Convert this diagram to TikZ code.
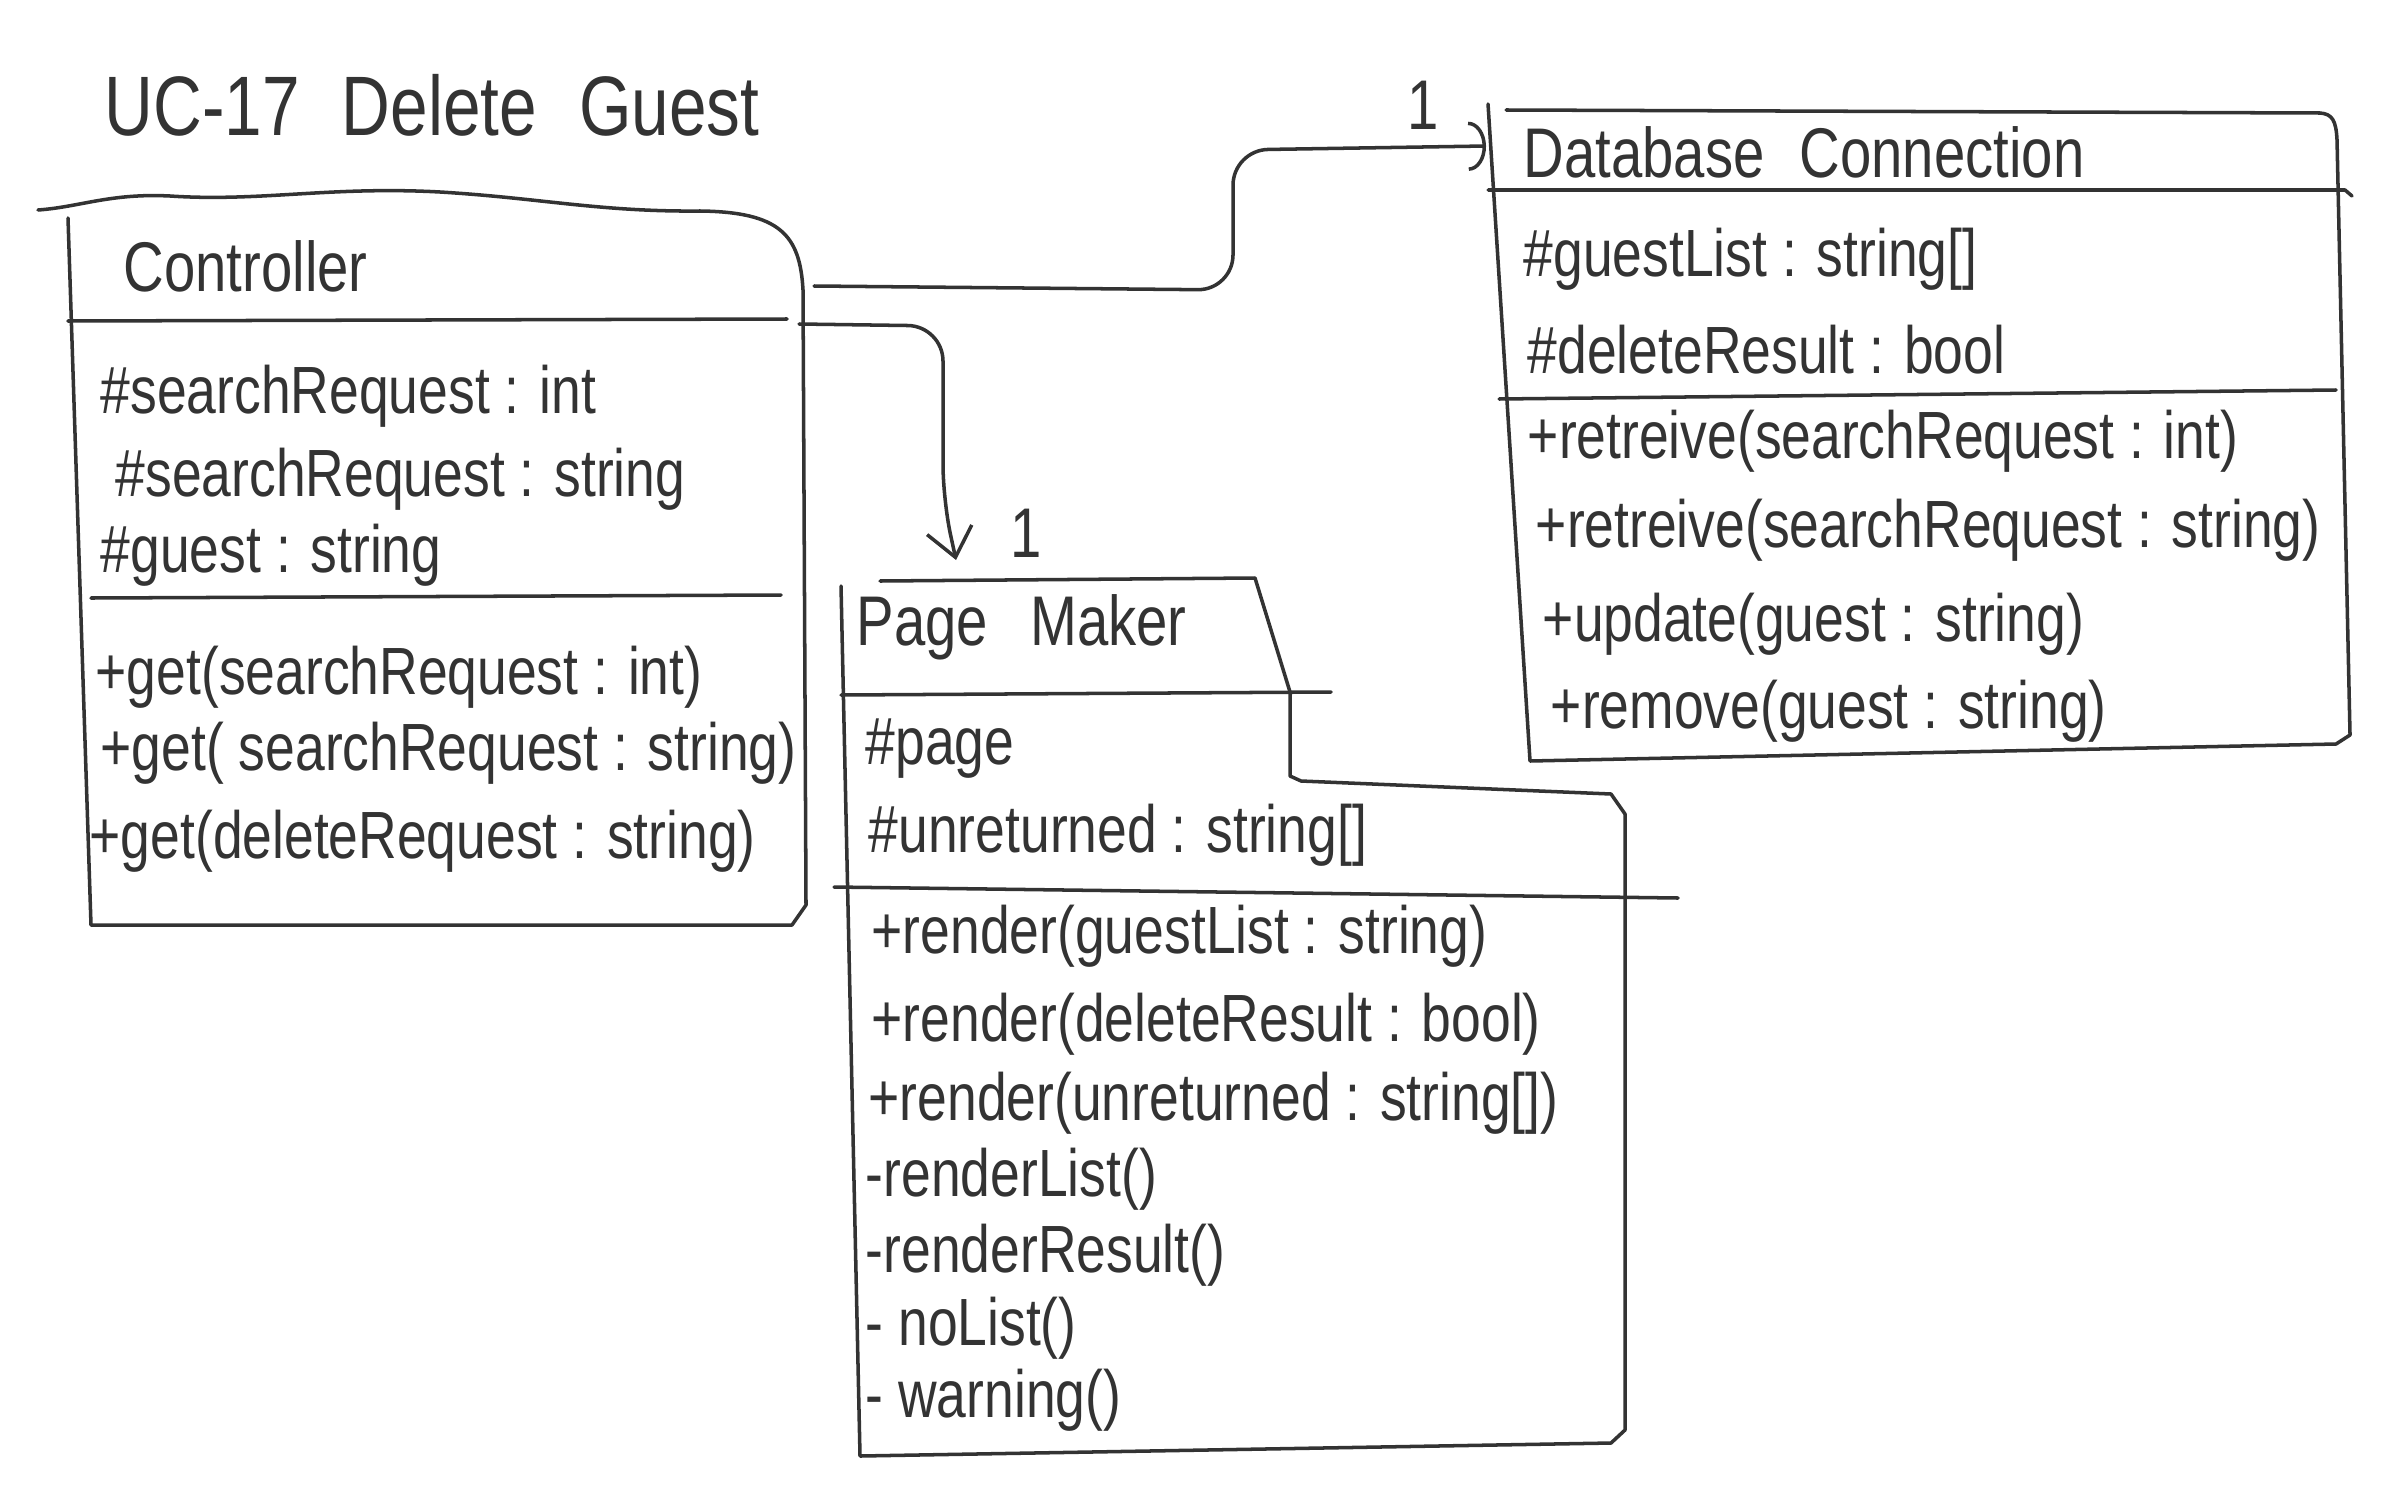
\documentclass[tikz,border=0pt]{standalone}
\usepackage{fontspec}
\setmainfont{Liberation Sans}[FakeStretch=0.8]
\usetikzlibrary{arrows.meta}
\definecolor{ink}{HTML}{333333}
\tikzset{
  classname/.style={anchor=west, inner sep=0pt, font=\fontsize{20}{24}\selectfont},
  member/.style={anchor=west, inner sep=0pt, font=\fontsize{19}{22}\selectfont},
  mult/.style={inner sep=0pt, font=\fontsize{20}{24}\selectfont},
}
\begin{document}
\begin{tikzpicture}[x=0.01cm, y=-0.01cm, color=ink, line width=1pt, line cap=round, line join=round]
    \useasboundingbox (0,0) rectangle (2386,1491);
    % titulo
    \node[anchor=west, inner sep=0pt, font=\fontsize{24}{28}\selectfont] (title) at (103,105)
        {UC-17\hspace{0.5em}Delete\hspace{0.5em}Guest};

    % Controller
    \draw (38,210) .. controls (80,207) and (110,193) .. (170,196)
        .. controls (260,202) and (330,186) .. (440,192)
        .. controls (540,198) and (600,212) .. (700,211)
        .. controls (780,212) and (800,235) .. (803,290)
        -- (806,905) -- (792,925) -- (91,925) -- (68,218);
    \draw (68,321) -- (787,319);
    \draw (91,598) -- (781,595);
    \node[classname] (ctrl) at (122,266) {Controller};
    \node[member] (ctrlA1) at (99,396) {\#searchRequest : int};
    \node[member] (ctrlA2) at (114,479) {\#searchRequest : string};
    \node[member] (ctrlA3) at (99,555) {\#guest : string};
    \node[member] (ctrlM1) at (94,677) {+get(searchRequest : int)};
    \node[member] (ctrlM2) at (99,753) {+get( searchRequest : string)};
    \node[member] (ctrlM3) at (88,841) {+get(deleteRequest : string)};

    % Database Connection
    \draw (1506,110) -- (2320,113) .. controls (2332,114) and (2336,120) .. (2337,140)
        -- (2350,735) -- (2336,744) -- (1530,761) -- (1488,104);
    \draw (1488,190) -- (2345,190) -- (2352,196);
    \draw (1499,399) -- (2336,390);
    \node[classname] (db) at (1522,152) {Database\hspace{0.5em}Connection};
    \node[member] (dbA1) at (1522,259) {\#guestList : string[]};
    \node[member] (dbA2) at (1526,350) {\#deleteResult : bool};
    \node[member] (dbM1) at (1526,441) {+retreive(searchRequest : int)};
    \node[member] (dbM2) at (1534,530) {+retreive(searchRequest : string)};
    \node[member] (dbM3) at (1541,624) {+update(guest : string)};
    \node[member] (dbM4) at (1549,711) {+remove(guest : string)};

    % Page Maker
    \draw (880,581) -- (1255,578) -- (1290,692) -- (1290,776) -- (1301,781)
        -- (1611,794) -- (1625,814) -- (1625,1430) -- (1611,1443) -- (860,1456) -- (841,586);
    \draw (841,695) -- (1331,692);
    \draw (834,887) -- (1678,898);
    \node[classname] (pm) at (855,627) {Page\hspace{0.6em}Maker};
    \node[member] (pmA1) at (864,749) {\#page};
    \node[member] (pmA2) at (867,835) {\#unreturned : string[]};
    \node[member] (pmM1) at (870,936) {+render(guestList : string)};
    \node[member] (pmM2) at (870,1024) {+render(deleteResult : bool)};
    \node[member] (pmM3) at (867,1103) {+render(unreturned : string[])};
    \node[member] (pmM4) at (864,1179) {-renderList()};
    \node[member] (pmM5) at (864,1255) {-renderResult()};
    \node[member] (pmM6) at (864,1328) {- noList()};
    \node[member] (pmM7) at (864,1400) {- warning()};

    % asociaciones
    \coordinate (ctrlOut1) at (814,286);
    \coordinate (dbIn) at (1486,146);
    \coordinate (ctrlOut2) at (799,324);
    \coordinate (pmIn) at (956,560);
    \draw[rounded corners=10pt, -{Arc Barb[length=5pt,width=14pt]}]
        (ctrlOut1) -- (1233,290) -- (1233,150) -- (dbIn);
    \draw[rounded corners=10pt, -{Straight Barb[length=8pt,width=13pt]}]
        (ctrlOut2) -- (943,326) -- (943,500) -- (pmIn);
    \node[mult] (dbMult) at (1423,105) {1};
    \node[mult] (pmMult) at (1026,533) {1};
\end{tikzpicture}
\end{document}
